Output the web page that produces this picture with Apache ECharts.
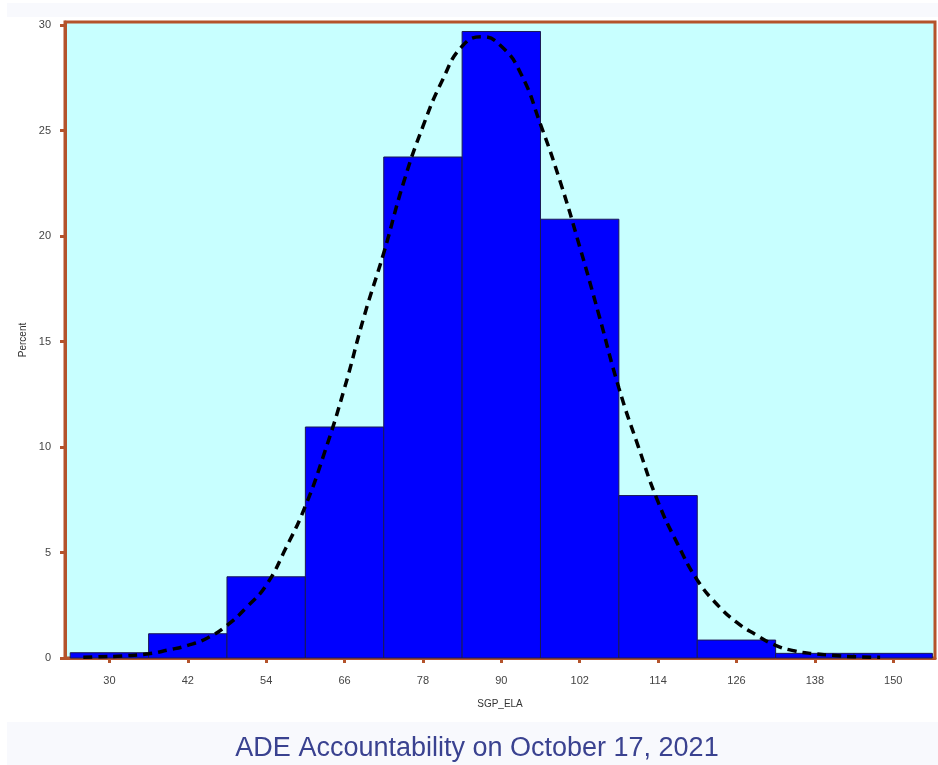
<!DOCTYPE html>
<html>
<head>
<meta charset="utf-8">
<script src="https://cdn.jsdelivr.net/npm/echarts@6/dist/echarts.min.js"></script>
<style>
html,body{margin:0;padding:0;background:#fff;}
#chart{width:938px;height:765px;}
</style>
</head>
<body>
<div id="chart"></div>
<script>
// ---- data ----
const binCenters = [30, 42, 54, 66, 78, 90, 102, 114, 126, 138, 150];
const binWidth = 12;
const percents = [0.25, 1.15, 3.85, 10.95, 23.75, 29.7, 20.8, 7.7, 0.85, 0.22, 0.22];
const xTicks = [30, 42, 54, 66, 78, 90, 102, 114, 126, 138, 150];
const yTicks = [0, 5, 10, 15, 20, 25, 30];
const curveX = [26, 28, 32, 36, 39, 42, 45, 48, 51, 54, 57, 60, 63, 66, 69, 72, 75, 78, 81, 84, 87, 90, 93, 96, 99, 102, 105, 108, 111, 114, 117, 120, 123, 126, 129, 132, 135, 138, 141, 144, 148];
const curveY = [0.03, 0.05, 0.10, 0.2, 0.38, 0.6, 0.95, 1.55, 2.4, 3.45, 5.2, 7.2, 9.8, 12.8, 16.2, 19.2, 22.5, 25.2, 27.4, 29.0, 29.45, 29.0, 27.7, 25.3, 22.6, 19.5, 16.2, 12.8, 10.0, 7.4, 5.4, 3.7, 2.55, 1.7, 1.1, 0.6, 0.33, 0.2, 0.12, 0.06, 0.03];
const xName = 'SGP_ELA';
const yName = 'Percent';
const titleText = 'ADE Accountability on October 17, 2021';

const brown = '#b4532b';
const chart = echarts.init(document.getElementById('chart'), null, {renderer: 'canvas'});

const option = {
  backgroundColor: '#ffffff',
  animation: false,
  graphic: [
    {type: 'rect', z: -10, shape: {x: 7, y: 3, width: 931, height: 14}, style: {fill: '#f8f9fd'}},
    {type: 'rect', z: -10, shape: {x: 7, y: 722, width: 931, height: 43}, style: {fill: '#f8f9fd'}},
    {type: 'text', x: 477, y: 749, style: {text: titleText, textAlign: 'center', textVerticalAlign: 'middle',
      fontSize: 27, fontFamily: 'Liberation Sans, Arial, sans-serif', fill: '#3a4290'}}
  ],
  grid: {
    left: 65, right: 3, top: 22, bottom: 107,
    show: true, backgroundColor: '#c8ffff', borderColor: brown, borderWidth: 3,
    containLabel: false
  },
  xAxis: {
    type: 'value', min: 23.2, max: 156.4,
    name: xName, nameLocation: 'middle', nameGap: 41,
    nameTextStyle: {fontSize: 10, color: '#333', fontFamily: 'Liberation Sans, Arial, sans-serif'},
    axisLine: {show: true, lineStyle: {color: brown, width: 3}},
    axisTick: {show: true, length: 5, lineStyle: {color: brown, width: 3}, customValues: xTicks},
    axisLabel: {customValues: xTicks, fontSize: 11, color: '#444', margin: 17, fontFamily: 'Liberation Sans, Arial, sans-serif'},
    splitLine: {show: false}
  },
  yAxis: {
    type: 'value', min: 0, max: 30.15,
    name: yName, nameLocation: 'middle', nameGap: 36, nameRotate: 90,
    nameTextStyle: {fontSize: 10, color: '#333', fontFamily: 'Liberation Sans, Arial, sans-serif'},
    axisLine: {show: true, lineStyle: {color: brown, width: 3}},
    axisTick: {show: true, length: 5, lineStyle: {color: brown, width: 3}, customValues: yTicks},
    axisLabel: {customValues: yTicks, fontSize: 11, color: '#444', margin: 14, fontFamily: 'Liberation Sans, Arial, sans-serif'},
    splitLine: {show: false}
  },
  series: [
    {
      type: 'custom',
      z: 2,
      data: binCenters.map((c, i) => [c, percents[i]]),
      renderItem: function (params, api) {
        const c = api.value(0), v = api.value(1);
        const p0 = api.coord([c - binWidth / 2, v]);
        const p1 = api.coord([c + binWidth / 2, 0]);
        return {
          type: 'rect',
          shape: {x: p0[0], y: p0[1], width: p1[0] - p0[0], height: p1[1] - p0[1]},
          style: {fill: '#0000ff', stroke: '#1a1a55', lineWidth: 1}
        };
      }
    },
    {
      type: 'line',
      z: 5,
      smooth: true,
      symbol: 'none',
      data: curveX.map((x, i) => [x, curveY[i]]),
      lineStyle: {color: '#000', width: 3.5, type: [9, 6]}
    }
  ]
};
chart.setOption(option);
</script>
</body>
</html>
